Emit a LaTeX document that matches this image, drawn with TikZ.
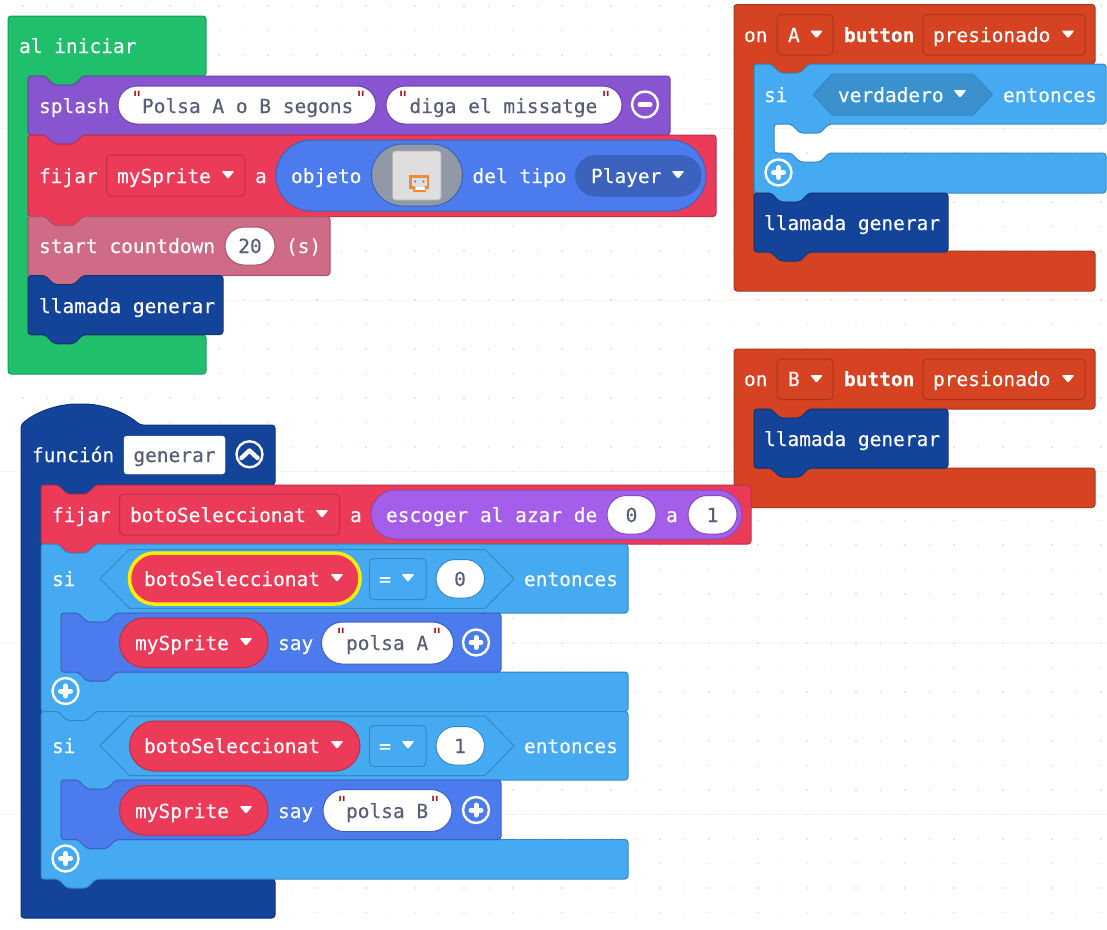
\documentclass[tikz,border=0pt]{standalone}
\usepackage{fontspec}
\setmainfont{DejaVu Sans Mono}[FakeBold=0.25,BoldFont={DejaVu Sans Mono Bold}]
\newfontfamily\qfont{DejaVu Sans Mono}
\definecolor{gr}{HTML}{20BF6B}\definecolor{grD}{HTML}{1A9956}
\definecolor{pu}{HTML}{8854D0}\definecolor{puD}{HTML}{6D43A6}
\definecolor{re}{HTML}{EC3A59}\definecolor{reD}{HTML}{BC2F48}
\definecolor{pk}{HTML}{CF6A87}\definecolor{pkD}{HTML}{A6556C}
\definecolor{na}{HTML}{144499}\definecolor{naD}{HTML}{103678}
\definecolor{bl}{HTML}{4B7BEC}\definecolor{blD}{HTML}{3C62BD}
\definecolor{lb}{HTML}{45AAF2}\definecolor{lbD}{HTML}{3788C2}
\definecolor{or}{HTML}{D54322}\definecolor{orD}{HTML}{AA361B}
\definecolor{vi}{HTML}{A55EEA}\definecolor{viD}{HTML}{844BBB}
\definecolor{fg}{HTML}{575E75}
\definecolor{qt}{HTML}{A31515}
\definecolor{gp}{HTML}{9199A6}
\definecolor{spr}{HTML}{F28A3C}
\definecolor{gridc}{HTML}{EDE3D8}
\definecolor{gridl}{HTML}{FBF5F0}
\tikzset{
  blk/.style={line width=1pt,rounded corners=3pt,line join=round},
  lbl/.style={anchor=base west,inner sep=0pt,outer sep=0pt,font=\fontsize{19.5}{24}\selectfont},
  clbl/.style={anchor=base,inner sep=0pt,outer sep=0pt,font=\fontsize{19.5}{24}\selectfont},
  ring/.style={draw=white,line width=2.4pt},
  sym/.style={draw=white,line width=5pt,line cap=round},
}
% statement block: x0 x1 y0 y1 colour
\newcommand\sblk[5]{\draw[blk,fill=#5,draw=#5D] (#1,#3) -- ({#1+17},#3) -- ({#1+26},{#3+9}) -- ({#1+46},{#3+9}) -- ({#1+55},#3) -- (#2,#3) -- (#2,#4) -- ({#1+55},#4) -- ({#1+46},{#4+9}) -- ({#1+26},{#4+9}) -- ({#1+17},#4) -- (#1,#4) -- cycle;}
% hat C block: x0 xi xr y0 yh yl yb colour
\newcommand\hblk[8]{\draw[blk,fill=#8,draw=#8D] (#1,#4) -- (#3,#4) -- (#3,#5) -- ({#2+55},#5) -- ({#2+46},{#5+9}) -- ({#2+26},{#5+9}) -- ({#2+17},#5) -- (#2,#5) -- (#2,#6) -- ({#2+17},#6) -- ({#2+26},{#6+9}) -- ({#2+46},{#6+9}) -- ({#2+55},#6) -- (#3,#6) -- (#3,#7) -- (#1,#7) -- cycle;}
% if C block with notch and tab: x0 xr y0 yh yl yb
\newcommand\iblk[6]{\draw[blk,fill=lb,draw=lbD] (#1,#3) -- ({#1+17},#3) -- ({#1+26},{#3+9}) -- ({#1+46},{#3+9}) -- ({#1+55},#3) -- (#2,#3) -- (#2,#4) -- ({#1+75},#4) -- ({#1+66},{#4+9}) -- ({#1+46},{#4+9}) -- ({#1+37},#4) -- ({#1+20},#4) -- ({#1+20},#5) -- ({#1+37},#5) -- ({#1+46},{#5+9}) -- ({#1+66},{#5+9}) -- ({#1+75},#5) -- (#2,#5) -- (#2,#6) -- ({#1+55},#6) -- ({#1+46},{#6+9}) -- ({#1+26},{#6+9}) -- ({#1+17},#6) -- (#1,#6) -- cycle;}
% pill: x1 y1 x2 y2 fill stroke
\newcommand\pill[6]{\pgfmathsetmacro\prad{(#4-#2)/2}\draw[fill=#5,draw=#6,line width=1pt,rounded corners=\prad pt] (#1,#2) rectangle (#3,#4);}
% dropdown field: x1 y1 x2 y2 fill stroke
\newcommand\drp[6]{\draw[fill=#5,draw=#6,line width=1pt,rounded corners=4pt] (#1,#2) rectangle (#3,#4);}
% triangle
\newcommand\tri[2]{\fill[white,rounded corners=1.2pt] ({#1-6.5},{#2-4}) -- ({#1+6.5},{#2-4}) -- (#1,{#2+3.8}) -- cycle;}
% texts: [colour] name x yc text
\newcommand\tx[5][white]{\node[lbl,text=#1] (#2) at (#3,{#4+7}) {#5};}
\newcommand\cx[5][white]{\node[clbl,text=#1] (#2) at (#3,{#4+7}) {#5};}
\newcommand\qq[3]{\node[clbl,text=qt,font=\fontsize{19.5}{24}\selectfont\qfont] (#1) at (#2,{#3+0.5}) {"};}
% plus / minus
\newcommand\plusb[2]{\draw[ring] (#1,#2) circle (13);\draw[sym] ({#1-5},#2) -- ({#1+5},#2) (#1,{#2-5}) -- (#1,{#2+5});}
\newcommand\minusb[2]{\draw[ring] (#1,#2) circle (13);\draw[sym] ({#1-5},#2) -- ({#1+5},#2);}
\begin{document}
\begin{tikzpicture}[x=1pt,y=-1pt]
\useasboundingbox (0,0) rectangle (1107,929);
\fill[white] (0,0) rectangle (1107,929);
% background grid
\foreach \yy in {128.5,300,471.5,643,814.5}{\draw[color=gridl,line width=0.8pt] (0,\yy) -- (1107,\yy);}
\foreach \ix in {0,...,44}{\foreach \iy in {0,...,37}{
  \pgfmathsetmacro\gx{22.8+24.5*\ix}\pgfmathsetmacro\gy{6+24.5*\iy}
  \fill[color=gridc] (\gx-0.7,\gy-0.7) rectangle (\gx+0.7,\gy+0.7);}}

% ---------- al iniciar
\hblk{8}{28}{206}{16}{76}{335}{374}{gr}
\tx{t1}{19}{46}{al iniciar}
\sblk{28}{670}{76}{135}{pu}
\tx{t2}{39}{106}{splash}
\pill{118}{86}{376}{124}{white}{puD}
\qq{q1}{137}{105}\tx[fg]{t3}{142}{106}{Polsa A o B segons}\qq{q2}{361}{105}
\pill{386}{86}{622}{124}{white}{puD}
\qq{q3}{403}{105}\tx[fg]{t4}{409.5}{106}{diga el missatge}\qq{q4}{606}{105}
\minusb{645}{104.5}
\sblk{28}{716}{135}{216.5}{re}
\tx{t5}{39}{176}{fijar}
\drp{106.5}{155}{245}{196}{re}{reD}
\tx{t6}{117}{176}{mySprite}\tri{228}{175}
\tx{t7}{255}{176}{a}
\pill{276}{140}{706}{211}{bl}{blD}
\tx{t8}{291}{176}{objeto}
\pill{371.5}{144}{462.5}{206}{gp}{blD}
\draw[fill=black!13,draw=black!30,line width=0.6pt,rounded corners=3pt] (392.5,151) rectangle (441,200);
\draw[color=spr,line width=2.6pt,line join=miter] (410.5,176.5) -- (428,176.5) -- (428,187.5) -- (425,187.5) -- (425,191) -- (414,191) -- (414,187.5) -- (410.5,187.5) -- cycle;
\fill[color=brown!80!black] (414.3,180.5) rectangle (416,182.3) (422.6,180.5) rectangle (424.3,182.3);
\fill[white] (415.7,187) rectangle (424.6,189.5);
\tx{t9}{472.5}{176}{del tipo}
\pill{575.5}{155.5}{701}{196}{bl!80!black}{blD}
\tx{t10}{591}{176}{Player}\tri{678}{175}
\sblk{28}{330}{216.5}{275.5}{pk}
\tx{t11}{39}{246}{start countdown}
\pill{225}{227}{275}{265}{white}{pkD}
\cx[fg]{t12}{250}{246}{20}
\tx{t13}{286}{246}{(s)}
\sblk{28}{223}{275.5}{334.5}{na}
\tx{t14}{39}{306}{llamada generar}

% ---------- on A
\hblk{734}{754}{1095}{4.5}{64}{251}{291}{or}
\tx{t15}{744}{35}{on}
\drp{777}{14.5}{833}{55}{or}{orD}
\tx{t16}{788}{35}{A}\tri{816.5}{34.5}
\node[lbl,text=white,font=\fontsize{19.5}{24}\selectfont\bfseries] (t17) at (844,42) {button};
\drp{923}{14.5}{1085}{55}{or}{orD}
\tx{t18}{933}{35}{presionado}\tri{1068}{34.5}
\iblk{754}{1106}{64}{124}{153}{193}
\tx{t19}{764}{95}{si}
\draw[fill=lb!85!black,draw=lbD,line width=1pt,line join=round] (813,94.5) -- (832,74) -- (973,74) -- (992.5,94.5) -- (973,115) -- (832,115) -- cycle;
\tx{t20}{838}{95}{verdadero}\tri{960}{94}
\tx{t21}{1003}{95}{entonces}
\plusb{778.5}{172.5}
\sblk{754}{948}{193}{252}{na}
\tx{t22}{764}{223}{llamada generar}

% ---------- on B
\hblk{734}{754}{1095}{349}{409}{468}{507.5}{or}
\tx{t23}{744}{379}{on}
\drp{777}{359}{833}{399.5}{or}{orD}
\tx{t24}{788}{379}{B}\tri{816.5}{379}
\node[lbl,text=white,font=\fontsize{19.5}{24}\selectfont\bfseries] (t25) at (844,386) {button};
\drp{923}{359}{1085}{399.5}{or}{orD}
\tx{t26}{933}{379}{presionado}\tri{1068}{379}
\sblk{754}{948}{409}{468}{na}
\tx{t27}{764}{439}{llamada generar}

% ---------- function
\draw[blk,fill=na,draw=naD] (21,425) .. controls (35,412) and (58,404) .. (80,404) .. controls (103,404) and (125,412) .. (140,425) -- (275,425) -- (275,485) -- (96,485) -- (87,494) -- (67,494) -- (58,485) -- (41,485) -- (41,879) -- (275,879) -- (275,918) -- (21,918) -- cycle;
\tx{t28}{32}{455}{función}
\draw[fill=white,draw=white,rounded corners=3pt] (124,436) rectangle (225,474);
\cx[fg]{t29}{174.5}{455}{generar}
\draw[ring] (249.5,454.3) circle (13);
\draw[sym,line width=4.4pt,line join=round] (241.5,458) -- (249.5,450.5) -- (257.5,458);
\sblk{41}{751}{485}{544}{re}
\tx{t30}{52}{515}{fijar}
\drp{119.5}{494}{339.5}{535}{re}{reD}
\tx{t31}{130}{515}{botoSeleccionat}\tri{322}{514}
\tx{t32}{350}{515}{a}
\pill{371}{490}{742}{539}{vi}{viD}
\tx{t33}{386}{515}{escoger al azar de}
\pill{607}{495.5}{656}{534}{white}{viD}
\cx[fg]{t34}{631.5}{515}{0}
\tx{t35}{666}{515}{a}
\pill{688}{495.5}{737}{534}{white}{viD}
\cx[fg]{t36}{712.5}{515}{1}
% first if
\iblk{41}{628}{544}{613}{672}{711.5}
\tx{t37}{52}{579}{si}
\draw[draw=lbD,line width=1pt,line join=round] (100,578.7) -- (129.5,549.5) -- (485,549.5) -- (514,578.7) -- (485,608.3) -- (129.5,608.3) -- cycle;
\pill{129.5}{553}{360}{604}{re}{reD}
\draw[color=yellow!95!orange,line width=3.5pt,rounded corners=25pt] (129.5,553) rectangle (360,604);
\tx{t38}{144}{579}{botoSeleccionat}\tri{337}{578}
\drp{369.5}{558.5}{426}{599.5}{lb}{lbD}
\cx{t39}{385}{579}{=}\tri{408}{578}
\pill{436}{559.5}{484.5}{598}{white}{lbD}
\cx[fg]{t40}{460}{579}{0}
\tx{t41}{524}{579}{entonces}
\sblk{61}{501}{613}{672}{bl}
\pill{119.5}{618}{268}{667.5}{re}{reD}
\tx{t42}{135}{643}{mySprite}\tri{246}{642}
\tx{t43}{278}{643}{say}
\pill{321.5}{622}{453.5}{664}{white}{blD}
\qq{q5}{341}{642}\tx[fg]{t44}{346}{643}{polsa A}\qq{q6}{437}{642}
\plusb{476}{642.5}
\plusb{65.5}{691}
% second if
\iblk{41}{628}{711.5}{780}{839.5}{879}
\tx{t45}{52}{746}{si}
\draw[draw=lbD,line width=1pt,line join=round] (100,745.7) -- (129.5,716) -- (485,716) -- (514,745.7) -- (485,775.5) -- (129.5,775.5) -- cycle;
\pill{129.5}{721}{360}{771}{re}{reD}
\tx{t46}{144}{746}{botoSeleccionat}\tri{337}{745}
\drp{369.5}{725.5}{426}{766.5}{lb}{lbD}
\cx{t47}{385}{746}{=}\tri{408}{745}
\pill{436}{726.5}{484.5}{765}{white}{lbD}
\cx[fg]{t48}{460}{746}{1}
\tx{t49}{524}{746}{entonces}
\sblk{61}{501}{780}{839.5}{bl}
\pill{119.5}{785.5}{268}{835}{re}{reD}
\tx{t50}{135}{811}{mySprite}\tri{246}{810}
\tx{t51}{278}{811}{say}
\pill{323}{789.5}{452}{831.5}{white}{blD}
\qq{q7}{342}{810}\tx[fg]{t52}{346}{811}{polsa B}\qq{q8}{435}{810}
\plusb{476}{810}
\plusb{65.5}{858.5}
\end{tikzpicture}
\end{document}
